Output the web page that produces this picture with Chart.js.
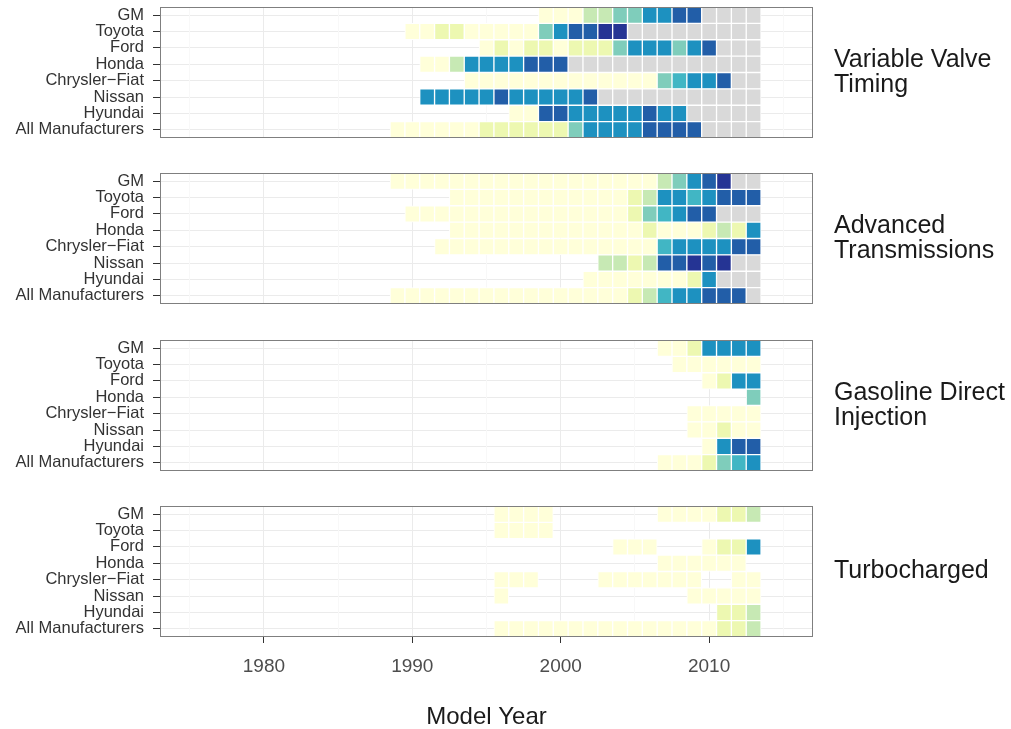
<!DOCTYPE html>
<html>
<head>
<meta charset="utf-8">
<title>Technology adoption by manufacturer and model year</title>
<script src="https://cdn.jsdelivr.net/npm/chart.js@4.4.1/dist/chart.umd.min.js"></script>
<style>
  html, body { margin: 0; padding: 0; background: #ffffff; }
  #wrap { position: relative; width: 1011px; height: 729px; overflow: hidden; }
  .panel { position: absolute; left: 0; width: 1011px; }
</style>
</head>
<body>
<div id="wrap">
  <div class="panel" style="top:0px;height:145px"><canvas id="p0"></canvas></div>
  <div class="panel" style="top:166px;height:145px"><canvas id="p1"></canvas></div>
  <div class="panel" style="top:333px;height:145px"><canvas id="p2"></canvas></div>
  <div class="panel" style="top:499px;height:230px"><canvas id="p3"></canvas></div>
</div>
<script>
// _ = no tile, G = grey tile, 0..7 = colour step (light yellow -> dark blue)
const _ = null;
const G = -1;

const years = [1988, 1989, 1990, 1991, 1992, 1993, 1994, 1995, 1996, 1997, 1998, 1999, 2000,
               2001, 2002, 2003, 2004, 2005, 2006, 2007, 2008, 2009, 2010, 2011, 2012, 2013];

const makers = ['GM', 'Toyota', 'Ford', 'Honda', 'Chrysler\u2212Fiat', 'Nissan', 'Hyundai', 'All Manufacturers'];

// Variable Valve Timing
const vvt = [
  [_,_,_,_,_,_,_,_,_,_,_,0,0,0,2,2,3,3,5,5,6,6,G,G,G,G],
  [_,_,0,0,1,1,0,0,0,0,0,3,5,6,6,7,7,G,G,G,G,G,G,G,G,G],
  [_,_,_,_,_,_,_,0,1,0,1,1,0,1,1,1,3,5,5,5,3,5,6,G,G,G],
  [_,_,_,0,0,2,5,5,5,5,6,6,6,G,G,G,G,G,G,G,G,G,G,G,G,G],
  [_,_,_,_,_,_,0,0,0,0,0,0,0,0,0,0,0,0,0,3,4,5,5,6,G,G],
  [_,_,_,5,5,5,5,5,6,5,5,5,5,5,6,G,G,G,G,G,G,G,G,G,G,G],
  [_,_,_,_,_,_,_,_,_,0,0,6,6,5,5,5,5,5,6,5,5,G,G,G,G,G],
  [_,0,0,0,0,0,0,1,1,1,1,1,1,3,5,5,5,5,6,6,6,6,G,G,G,G]
];

// Advanced Transmissions
const trans = [
  [_,0,0,0,0,0,0,0,0,0,0,0,0,0,0,0,0,0,0,2,3,5,6,7,G,G],
  [_,_,_,_,_,0,0,0,0,0,0,0,0,0,0,0,0,1,2,5,5,4,5,6,6,6],
  [_,_,0,0,0,0,0,0,0,0,0,0,0,0,0,0,0,1,3,4,5,6,6,G,G,G],
  [_,_,_,_,_,0,0,0,0,0,0,0,0,0,0,0,0,0,1,0,0,0,1,2,1,5],
  [_,_,_,_,0,0,0,0,0,0,0,0,0,0,0,0,0,0,0,4,5,5,5,5,6,6],
  [_,_,_,_,_,_,_,_,_,_,_,_,_,_,_,2,2,1,2,6,6,7,6,7,G,G],
  [_,_,_,_,_,_,_,_,_,_,_,_,_,_,0,0,0,0,0,0,0,1,5,G,G,G],
  [_,0,0,0,0,0,0,0,0,0,0,0,0,0,0,0,0,1,2,4,5,5,6,6,6,G]
];

// Gasoline Direct Injection
const gdi = [
  [_,_,_,_,_,_,_,_,_,_,_,_,_,_,_,_,_,_,_,0,0,1,5,5,5,5],
  [_,_,_,_,_,_,_,_,_,_,_,_,_,_,_,_,_,_,_,_,0,0,0,0,0,0],
  [_,_,_,_,_,_,_,_,_,_,_,_,_,_,_,_,_,_,_,_,_,_,0,1,5,5],
  [_,_,_,_,_,_,_,_,_,_,_,_,_,_,_,_,_,_,_,_,_,_,_,_,_,3],
  [_,_,_,_,_,_,_,_,_,_,_,_,_,_,_,_,_,_,_,_,_,0,0,0,0,0],
  [_,_,_,_,_,_,_,_,_,_,_,_,_,_,_,_,_,_,_,_,_,0,0,1,0,0],
  [_,_,_,_,_,_,_,_,_,_,_,_,_,_,_,_,_,_,_,_,_,_,0,5,6,6],
  [_,_,_,_,_,_,_,_,_,_,_,_,_,_,_,_,_,_,_,0,0,0,1,3,4,5]
];

// Turbocharged
const turbo = [
  [_,_,_,_,_,_,_,_,0,0,0,0,_,_,_,_,_,_,_,0,0,0,0,1,1,2],
  [_,_,_,_,_,_,_,_,0,0,0,0,_,_,_,_,_,_,_,_,_,_,_,_,_,_],
  [_,_,_,_,_,_,_,_,_,_,_,_,_,_,_,_,0,0,0,_,_,_,0,1,1,5],
  [_,_,_,_,_,_,_,_,_,_,_,_,_,_,_,_,_,_,_,0,0,0,0,0,0,_],
  [_,_,_,_,_,_,_,_,0,0,0,_,_,_,_,0,0,0,0,0,0,0,_,_,0,0],
  [_,_,_,_,_,_,_,_,0,_,_,_,_,_,_,_,_,_,_,_,_,0,0,0,0,0],
  [_,_,_,_,_,_,_,_,_,_,_,_,_,_,_,_,_,_,_,_,_,_,_,1,1,2],
  [_,_,_,_,_,_,_,_,0,0,0,0,0,0,0,0,0,0,0,0,0,0,0,1,1,2]
];

const palette = ['#ffffd9', '#edf8b1', '#c7e9b4', '#7fcdbb', '#41b6c4', '#1d91c0', '#225ea8', '#253494'];
const grey = '#d9d9d9';

Chart.defaults.font.family = '"Liberation Sans", Arial, Helvetica, sans-serif';

function tiles(rows) {
  const out = [];
  rows.forEach((row, r) => {
    row.forEach((level, i) => {
      if (level === null) return;
      out.push({ x: [years[i] - 0.5, years[i] + 0.5], y: makers[r], level: level });
    });
  });
  return out;
}

function tileColor(ctx) {
  const l = ctx.raw ? ctx.raw.level : 0;
  return l === G ? grey : palette[l];
}

// frame round the panel and the facet label on its right
const panelFrame = {
  id: 'panelFrame',
  afterDraw(chart, args, opts) {
    const { ctx, chartArea: a } = chart;
    ctx.save();
    ctx.strokeStyle = '#7f7f7f';
    ctx.lineWidth = 1;
    ctx.strokeRect(Math.round(a.left) + 0.5, Math.round(a.top) + 0.5,
                   Math.round(a.right - a.left) - 1, Math.round(a.bottom - a.top) - 1);
    const lines = opts.lines || [];
    ctx.fillStyle = '#1a1a1a';
    ctx.font = '25px "Liberation Sans", Arial, Helvetica, sans-serif';
    ctx.textBaseline = 'middle';
    ctx.textAlign = 'left';
    const mid = (a.top + a.bottom) / 2;
    lines.forEach((t, i) => {
      ctx.fillText(t, a.right + 21, mid + (i - (lines.length - 1) / 2) * 25);
    });
    ctx.restore();
  }
};

const panels = [
  { id: 'p0', rows: vvt, strip: ['Variable Valve', 'Timing'] },
  { id: 'p1', rows: trans, strip: ['Advanced', 'Transmissions'] },
  { id: 'p2', rows: gdi, strip: ['Gasoline Direct', 'Injection'] },
  { id: 'p3', rows: turbo, strip: ['Turbocharged'], bottom: true }
];

panels.forEach(p => {
  new Chart(document.getElementById(p.id), {
    type: 'bar',
    data: {
      labels: makers,
      datasets: [{
        data: tiles(p.rows),
        backgroundColor: tileColor,
        borderColor: '#ffffff',
        borderWidth: 1,
        borderSkipped: false,
        categoryPercentage: 1,
        barPercentage: 1
      }]
    },
    options: {
      indexAxis: 'y',
      responsive: true,
      maintainAspectRatio: false,
      animation: false,
      layout: { padding: { top: 7, right: 198, bottom: p.bottom ? 0 : 7, left: 0 } },
      plugins: {
        legend: { display: false },
        tooltip: { enabled: false },
        panelFrame: { lines: p.strip }
      },
      scales: {
        y: {
          type: 'category',
          labels: makers,
          offset: true,
          grid: { offset: false, color: '#ebebeb', tickColor: '#333333', tickLength: 7 },
          border: { display: false },
          ticks: { color: '#333333', font: { size: 16.5 }, padding: 9, autoSkip: false },
          afterFit: s => { s.width = 160; s.paddingTop = 0; s.paddingBottom = 0; }
        },
        x: {
          type: 'linear',
          min: 1973,
          max: 2017,
          grid: {
            color: c => (c.tick.value % 10 === 0 ? '#ebebeb' : '#f8f8f8'),
            drawTicks: !!p.bottom,
            tickLength: 6,
            tickColor: c => (c.tick.value % 10 === 0 ? '#333333' : 'rgba(0,0,0,0)')
          },
          border: { display: false },
          ticks: {
            display: !!p.bottom,
            stepSize: 5,
            includeBounds: false,
            autoSkip: false,
            maxRotation: 0,
            color: '#4d4d4d',
            font: { size: 19 },
            padding: 12,
            callback: v => (v % 10 === 0 ? String(v) : '')
          },
          title: {
            display: !!p.bottom,
            text: 'Model Year',
            color: '#1a1a1a',
            font: { size: 24, lineHeight: 1 },
            padding: { top: 0, bottom: 0 }
          },
          afterFit: s => { s.height = p.bottom ? 92 : 0; s.paddingLeft = 0; s.paddingRight = 0; }
        }
      }
    },
    plugins: [panelFrame]
  });
});
</script>
</body>
</html>
